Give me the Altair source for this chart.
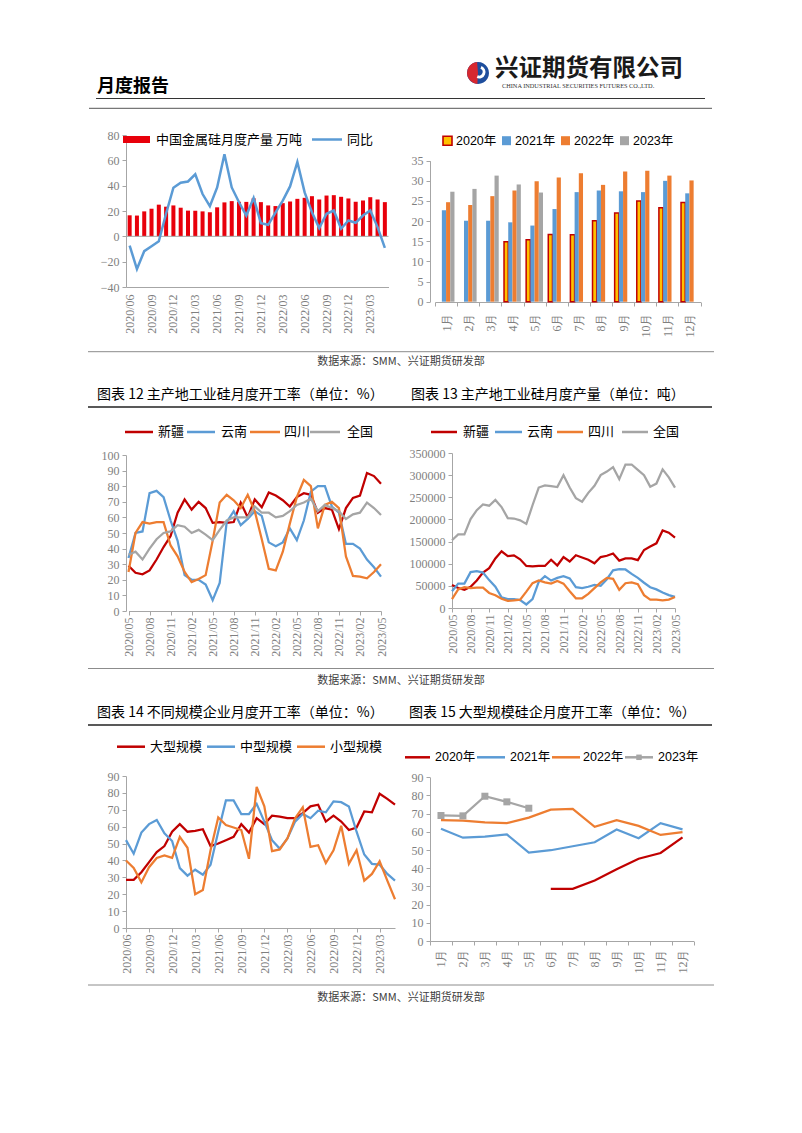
import altair as alt
import pandas as pd

# ---------------- data ----------------
months_a = ["2020/06", "2020/07", "2020/08", "2020/09", "2020/10", "2020/11", "2020/12",
            "2021/01", "2021/02", "2021/03", "2021/04", "2021/05", "2021/06", "2021/07",
            "2021/08", "2021/09", "2021/10", "2021/11", "2021/12",
            "2022/01", "2022/02", "2022/03", "2022/04", "2022/05", "2022/06", "2022/07",
            "2022/08", "2022/09", "2022/10", "2022/11", "2022/12",
            "2023/01", "2023/02", "2023/03", "2023/04", "2023/05"]
months_b = ["2020/05", "2020/06", "2020/07", "2020/08", "2020/09", "2020/10", "2020/11", "2020/12",
            "2021/01", "2021/02", "2021/03", "2021/04", "2021/05", "2021/06", "2021/07",
            "2021/08", "2021/09", "2021/10", "2021/11", "2021/12",
            "2022/01", "2022/02", "2022/03", "2022/04", "2022/05", "2022/06", "2022/07",
            "2022/08", "2022/09", "2022/10", "2022/11", "2022/12",
            "2023/01", "2023/02", "2023/03", "2023/04", "2023/05"]

# chart 1: China silicon metal monthly output (10k t) and YoY (%)
prod_wan = [16.6, 16.4, 19.7, 21.8, 25.0, 23.4, 24.4, 22.6, 20.3, 20.2, 19.7, 19.0,
            22.9, 26.8, 27.8, 27.3, 27.2, 30.0, 27.0, 24.4, 23.9, 26.2, 27.5, 29.6,
            30.4, 31.7, 29.1, 32.2, 32.5, 31.2, 29.9, 27.3, 28.3, 30.9, 29.1, 27.0]
yoy = [-7.3, -25.8, -11.7, -7.8, -3.9, 18.0, 38.4, 42.3, 43.3, 49.0, 33.4, 23.8,
       38.6, 64.8, 38.6, 26.9, 16.4, 30.3, 10.4, 9.1, 18.8, 28.2, 39.4, 58.7,
       34.7, 19.0, 6.5, 17.8, 20.4, 6.0, 12.5, 10.7, 16.4, 20.4, 7.3, -9.1]
y1_ticks = [-40, -20, 0, 20, 40, 60, 80]
zero_line = [0]

# chart 2: monthly output by year
month_cn = ["1月", "2月", "3月", "4月", "5月", "6月", "7月", "8月", "9月", "10月", "11月", "12月"]
years = ["2020年", "2021年", "2022年", "2023年"]
out_2020 = [None, None, None, 14.9, 15.4, 16.7, 16.6, 20.1, 22.0, 25.0, 23.3, 24.6]
out_2021 = [22.7, 20.1, 20.1, 19.7, 18.9, 23.0, 27.2, 27.6, 27.4, 27.2, 30.0, 26.9]
out_2022 = [24.7, 24.0, 26.2, 27.6, 29.9, 30.8, 31.9, 29.0, 32.3, 32.5, 31.3, 30.1]
out_2023 = [27.3, 28.0, 31.3, 29.1, 27.1, None, None, None, None, None, None, None]

# chart 3: operating rate by region (%)
regions = ["新疆", "云南", "四川", "全国"]
rate_xj = [29, 24.5, 23.5, 26, 33, 41, 48, 63, 71.5, 65, 70, 66, 56.5, 57, 56.5, 57, 69.5,
           60, 71.5, 66.5, 76, 74, 71, 67, 73, 75.5, 74.5, 63, 66, 65, 52.5, 66, 72.5, 74,
           88.5, 86.5, 81.5]
rate_yn = [34, 50, 51, 75.5, 77, 73, 58, 45, 23, 20, 20, 17, 7, 18, 57, 64, 55, 59, 64, 61,
           44, 41.5, 44, 53, 45.5, 58, 76.5, 80, 80, 67, 63, 43, 43, 40, 33, 28, 22]
rate_sc = [25, 50, 57, 56, 57, 57, 42, 35, 25, 18.5, 20.5, 23, 45, 69.5, 74.5, 71, 66, 74.5,
           64, 46, 27, 26, 38, 56, 73, 84, 80, 53, 68, 70, 66, 35, 22.5, 22, 21, 25, 30]
rate_qg = [36, 38, 33, 40, 46, 50, 51, 55, 54, 50, 52, 49, 45.5, 52, 58, 60, 60, 60, 67, 63,
           63, 60, 61, 64, 68, 69.5, 72, 64, 68, 66, 64, 59, 62, 63, 69.5, 66, 61.5]

# chart 4: output by region (t)
out_xj = [52000, 45000, 41000, 48000, 62000, 80000, 90000, 112000, 128000, 117000, 119000,
          110000, 95000, 94000, 95000, 95000, 109000, 96000, 115000, 105000, 119000, 114000,
          109000, 101000, 115000, 118000, 123000, 107000, 112000, 112000, 108000, 131000,
          139000, 146000, 175000, 170000, 159000]
out_yn = [38000, 55000, 55000, 81000, 83000, 80000, 63000, 48000, 24000, 20000, 20000, 18000,
          8000, 20000, 59000, 72000, 62000, 68000, 72000, 67000, 47000, 45000, 48000, 52000,
          50000, 65000, 85000, 88000, 87000, 77000, 68000, 57000, 47000, 42000, 35000, 29000,
          25000]
out_sc = [20000, 42000, 47000, 45000, 46000, 46000, 34000, 29000, 21000, 16000, 17000, 19000,
          37000, 56000, 62000, 58000, 55000, 61000, 55000, 38000, 22000, 22000, 32000, 45000,
          58000, 68000, 66000, 41000, 56000, 58000, 54000, 29000, 19000, 19000, 17000, 19000,
          25000]
out_qg = [153000, 166000, 166000, 201000, 221000, 234000, 231000, 244000, 228000, 203000,
          202000, 198000, 190000, 232000, 272000, 277000, 275000, 273000, 300000, 272000,
          248000, 240000, 260000, 276000, 300000, 308000, 318000, 291000, 324000, 324000,
          312000, 300000, 274000, 281000, 313000, 295000, 272000]

# chart 5: operating rate by enterprise size (%)
sizes = ["大型规模", "中型规模", "小型规模"]
rate_large = [28.5, 28.5, 33, 39, 45, 48.5, 57, 61.5, 57, 57.5, 58.5, 48.5, 50, 52, 54, 61.5,
              56.5, 65, 61.5, 66.5, 66, 65, 65, 68, 72, 73, 63, 66.5, 63, 58, 59.5, 69, 68.5,
              79.5, 76.5, 73]
rate_mid = [52, 44, 56.5, 61.5, 64, 56, 51.5, 35.5, 31, 34.5, 31.5, 37.5, 57, 75.5, 75.5,
            67.5, 67.5, 73.5, 63, 52, 47, 53, 63, 67.5, 65, 69.5, 68.5, 75, 74.5, 72, 57, 43.5,
            38, 37.5, 32, 28]
rate_small = [40, 35.5, 27, 36, 41.5, 43, 41.5, 54, 47.5, 20, 22.5, 46, 65.5, 61, 59.5, 58, 41,
              83.5, 72, 45.5, 46.5, 53, 65, 71.5, 48, 49, 38.5, 46, 60.5, 38, 46, 28, 32, 39.5,
              28, 17]

# chart 6: large enterprises operating rate by year (%)
big_2020 = [None, None, None, None, None, 28.7, 28.7, 33.3, 39.5, 45.2, 48.4, 57.0]
big_2021 = [61.7, 56.8, 57.4, 58.6, 48.6, 49.9, 52.1, 54.3, 61.3, 56.5, 64.8, 61.4]
big_2022 = [66.4, 66.2, 65.2, 64.8, 67.8, 72.2, 72.7, 62.8, 66.4, 63.3, 58.3, 59.9]
big_2023 = [69.0, 68.8, 79.6, 76.5, 73.0, None, None, None, None, None, None, None]

# ---------------- styles ----------------
RED = "#C00000"
BAR_RED = "#E8000B"
BLUE = "#5B9BD5"
ORANGE = "#ED7D31"
GRAY = "#A5A5A5"
YELLOW = "#FFC000"
LOGO_RED = "#D7282F"
LOGO_BLUE = "#1E4E9D"
CJK = "Noto Sans CJK SC"
SERIF = "Liberation Serif"
SANS = "Liberation Sans, Noto Sans CJK SC"
TICK = "#7F7F7F"
AXC = "#A6A6A6"

DUMMY = pd.DataFrame({"d": [0]})


def text_mark(x, y, s, size=13, color="#000000", font=CJK, align="left", weight="normal"):
    return alt.Chart(DUMMY).mark_text(
        text=s, align=align, baseline="middle", font=font, fontSize=size,
        color=color, fontWeight=weight
    ).encode(x=alt.value(x), y=alt.value(y))


def hline(x0, x1, y, color, width):
    return alt.Chart(DUMMY).mark_rule(color=color, strokeWidth=width).encode(
        x=alt.value(x0), x2=alt.value(x1), y=alt.value(y))


def box(x0, x1, y0, y1, fill, stroke=None, sw=1.5):
    kw = dict(color=fill)
    if stroke is not None:
        kw = dict(fill=fill, stroke=stroke, strokeWidth=sw)
    return alt.Chart(DUMMY).mark_rect(**kw).encode(
        x=alt.value(x0), x2=alt.value(x1), y=alt.value(y0), y2=alt.value(y1))


def line_key(x0, x1, y, color, label, lx, font=CJK, size=13):
    return [hline(x0, x1, y, color, 2.5), text_mark(lx, y, label, size=size, font=font)]


def empty_cell():
    return alt.Chart(DUMMY).mark_point(opacity=0, size=1).encode(
        x=alt.value(1), y=alt.value(1)).properties(width=1, height=1)


def long_frame(cats, names, series, cat_col="month", name_col="series"):
    rows = []
    for name, vals in zip(names, series):
        for c, v in zip(cats, vals):
            if v is not None:
                rows.append({cat_col: c, name_col: name, "value": v})
    return pd.DataFrame(rows)


def date_axis(vals, pad=3, ticks=True):
    return alt.Axis(values=vals, labelAngle=-90, labelAlign="right", labelBaseline="middle",
                    ticks=ticks, tickSize=4, labelPadding=pad, title=None)


def y_axis(vals, fmt=None, offset=None):
    kw = dict(values=vals, tickSize=4, labelPadding=3, title=None, labelOverlap=False)
    if fmt:
        kw["format"] = fmt
    if offset is not None:
        kw["offset"] = offset
    return alt.Axis(**kw)


# ---------------- header ----------------
header = alt.layer(
    text_mark(-29, 79, "月度报告", size=18, weight="bold"),
    hline(-30, 579, 90.5, "#333333", 1.2),
    hline(-37, 586, 100.3, "#555555", 1.0),
    alt.Chart(DUMMY).mark_arc(color=LOGO_BLUE, radius=11, theta=0, theta2=6.283).encode(
        x=alt.value(352), y=alt.value(65)),
    alt.Chart(DUMMY).mark_arc(color=LOGO_RED, radius=11, theta=3.2, theta2=6.2).encode(
        x=alt.value(352), y=alt.value(65)),
    alt.Chart(DUMMY).mark_arc(color="#FFFFFF", radius=6.5, radius2=3.6, theta=0.4, theta2=3.5).encode(
        x=alt.value(353), y=alt.value(64)),
    text_mark(369, 60.5, "兴证期货有限公司", size=23.5, weight="bold", color="#1A1A1A"),
    text_mark(376, 78, "CHINA INDUSTRIAL SECURITIES FUTURES CO.,LTD.", size=6.3, font=SERIF,
              color="#333333"),
).properties(width=304, height=127)

# ---------------- chart 1 ----------------
df1 = pd.DataFrame({"month": months_a, "prod": prod_wan, "yoy": yoy})
df1_zero = pd.DataFrame({"zero": zero_line})
x1 = alt.X("month:N", sort=months_a, title=None,
           scale=alt.Scale(paddingInner=0.45, paddingOuter=0.225),
           axis=date_axis(months_a[::3], pad=7, ticks=False))
y1_scale = alt.Scale(domain=[-40, 80], nice=False, zero=False)
y1_axis = y_axis(y1_ticks)
bars1 = alt.Chart(df1).mark_bar(color=BAR_RED).encode(
    x=x1, y=alt.Y("prod:Q", title=None, scale=y1_scale, axis=y1_axis))
zero1 = alt.Chart(df1_zero).mark_rule(color=AXC, strokeWidth=1).encode(
    y=alt.Y("zero:Q", title=None, scale=y1_scale, axis=y1_axis))
line1 = alt.Chart(df1).mark_line(color=BLUE, strokeWidth=2.5).encode(
    x=x1, y=alt.Y("yoy:Q", title=None, scale=y1_scale, axis=y1_axis))
ch1 = alt.layer(
    bars1, zero1, line1,
    box(-3, 24, 1, 8, BAR_RED),
    text_mark(30, 4.5, "中国金属硅月度产量 万吨"),
    *line_key(186, 216, 4.5, BLUE, "同比", 221),
).properties(width=262.5, height=152)

# ---------------- chart 2 ----------------
df2 = long_frame(month_cn, years, [out_2020, out_2021, out_2022, out_2023],
                 cat_col="month", name_col="year")
bars2 = alt.Chart(df2).mark_bar(strokeWidth=1.5).encode(
    x=alt.X("month:N", sort=month_cn, title=None,
            scale=alt.Scale(range=[5, 270.5], paddingInner=0, paddingOuter=0),
            axis=alt.Axis(labelAngle=-90, labelAlign="right", labelBaseline="middle",
                          tickBand="extent", tickSize=4, labelPadding=7, title=None)),
    xOffset=alt.XOffset("year:N", sort=years,
                        scale=alt.Scale(domain=years, paddingInner=0, paddingOuter=0.63)),
    y=alt.Y("value:Q", title=None,
            scale=alt.Scale(domain=[0, 35], nice=False, range=[166.7, 25.7]),
            axis=y_axis(list(range(0, 36, 5)))),
    fill=alt.Fill("year:N", scale=alt.Scale(domain=years, range=[YELLOW, BLUE, ORANGE, GRAY]),
                  legend=None),
    stroke=alt.condition(alt.datum.year == "2020年", alt.value(RED), alt.value("transparent")),
)
leg2 = []
leg_cols2 = [YELLOW, BLUE, ORANGE, GRAY]
for i, (yr, col) in enumerate(zip(years, leg_cols2)):
    sx = 13 + 59 * i
    if i == 0:
        leg2.append(box(sx, sx + 9, 1.2, 10.2, col, stroke=RED, sw=1.6))
    else:
        leg2.append(box(sx, sx + 9, 1.2, 10.2, col))
    leg2.append(text_mark(sx + 13, 5.7, yr, size=12.5, font=SANS))
ch2 = alt.layer(bars2, *leg2).properties(width=272, height=167)

# ---------------- chart 3 ----------------
df3 = long_frame(months_b, regions, [rate_xj, rate_yn, rate_sc, rate_qg])
lines3 = alt.Chart(df3).mark_line(strokeWidth=2.25).encode(
    x=alt.X("month:N", sort=months_b, title=None,
            scale=alt.Scale(type="point", padding=0, range=[2.5, 255]),
            axis=date_axis(months_b[::3], pad=2)),
    y=alt.Y("value:Q", title=None, scale=alt.Scale(domain=[0, 100], nice=False, range=[158, 2]),
            axis=y_axis(list(range(0, 101, 10)))),
    color=alt.Color("series:N", scale=alt.Scale(domain=regions, range=[RED, BLUE, ORANGE, GRAY]),
                    legend=None),
)
ch3 = alt.layer(
    lines3,
    *line_key(-1, 27, -21, RED, "新疆", 32),
    *line_key(61, 89, -21, BLUE, "云南", 95),
    *line_key(124, 154, -21, ORANGE, "四川", 158),
    *line_key(184, 214, -21, GRAY, "全国", 221),
).properties(width=256, height=158)

# ---------------- chart 4 ----------------
df4 = long_frame(months_b, regions, [out_xj, out_yn, out_sc, out_qg])
lines4 = alt.Chart(df4).mark_line(strokeWidth=2.25).encode(
    x=alt.X("month:N", sort=months_b, title=None,
            scale=alt.Scale(type="point", padding=0, range=[22, 245]),
            axis=date_axis(months_b[::3], pad=2)),
    y=alt.Y("value:Q", title=None,
            scale=alt.Scale(domain=[0, 350000], nice=False, range=[155, 0]),
            axis=y_axis(list(range(0, 350001, 50000)), fmt="d", offset=-22)),
    color=alt.Color("series:N", scale=alt.Scale(domain=regions, range=[RED, BLUE, ORANGE, GRAY]),
                    legend=None),
)
ch4 = alt.layer(
    lines4,
    *line_key(1, 27, -21, RED, "新疆", 33),
    *line_key(65, 92, -21, BLUE, "云南", 97),
    *line_key(127, 153, -21, ORANGE, "四川", 158),
    *line_key(192, 218, -21, GRAY, "全国", 223),
).properties(width=245, height=155)

# ---------------- chart 5 ----------------
df5 = long_frame(months_a, sizes, [rate_large, rate_mid, rate_small])
lines5 = alt.Chart(df5).mark_line(strokeWidth=2.25).encode(
    x=alt.X("month:N", sort=months_a, title=None,
            scale=alt.Scale(type="point", padding=0, range=[0, 269]),
            axis=date_axis(months_a[::3], pad=2)),
    y=alt.Y("value:Q", title=None, scale=alt.Scale(domain=[0, 90], nice=False, range=[152, 0]),
            axis=y_axis(list(range(0, 91, 10)))),
    color=alt.Color("series:N", scale=alt.Scale(domain=sizes, range=[RED, BLUE, ORANGE]),
                    legend=None),
)
ch5 = alt.layer(
    lines5,
    *line_key(-9, 19, -29.3, RED, "大型规模", 24),
    *line_key(81, 109, -29.3, BLUE, "中型规模", 114),
    *line_key(171, 199, -29.3, ORANGE, "小型规模", 204),
).properties(width=269, height=152)

# ---------------- chart 6 ----------------
df6 = long_frame(month_cn, years, [big_2020, big_2021, big_2022, big_2023])
x6 = alt.X("month:N", sort=month_cn, title=None, bandPosition=0.5,
           scale=alt.Scale(type="band", paddingInner=0, paddingOuter=0, range=[0, 263.5]),
           axis=alt.Axis(labelAngle=-90, labelAlign="right", labelBaseline="middle",
                         tickBand="extent", tickSize=4, labelPadding=4, title=None))
y6 = alt.Y("value:Q", title=None, scale=alt.Scale(domain=[0, 90], nice=False, range=[165, 1.3]),
           axis=y_axis(list(range(0, 91, 10))))
lines6 = alt.Chart(df6).mark_line(strokeWidth=2.25).encode(
    x=x6, y=y6,
    color=alt.Color("series:N", scale=alt.Scale(domain=years, range=[RED, BLUE, ORANGE, GRAY]),
                    legend=None),
)
pts6 = alt.Chart(df6[df6["series"] == "2023年"]).mark_point(
    shape="square", filled=True, size=49, color=GRAY, opacity=1).encode(x=x6, y=y6)
ch6 = alt.layer(
    lines6, pts6,
    *line_key(-25, 0, -18.7, RED, "2020年", 5, font=SANS, size=12.5),
    *line_key(47, 75, -18.7, BLUE, "2021年", 80, font=SANS, size=12.5),
    *line_key(122, 150, -18.7, ORANGE, "2022年", 153, font=SANS, size=12.5),
    *line_key(195, 223, -18.7, GRAY, "2023年", 228, font=SANS, size=12.5),
    alt.Chart(DUMMY).mark_point(shape="square", filled=True, size=30, color=GRAY, opacity=1).encode(
        x=alt.value(209), y=alt.value(-18.7)),
).properties(width=263.5, height=165)

# ---------------- text bands ----------------
SRC = "数据来源：SMM、兴证期货研发部"
band1 = alt.layer(
    hline(-38, 588, 49.7, "#8C8C8C", 1.0),
    text_mark(275, 60, SRC, size=11, color="#404040", align="center"),
    text_mark(-29, 93, "图表 12 主产地工业硅月度开工率（单位：%）", size=14),
    text_mark(285, 93, "图表 13 主产地工业硅月度产量（单位：吨）", size=14),
    hline(-38, 586, 105, "#222222", 1.5),
).properties(width=304, height=151)

band2 = alt.layer(
    hline(-38, 588, 57.5, "#8C8C8C", 1.0),
    text_mark(275, 69.5, SRC, size=11, color="#404040", align="center"),
    text_mark(-29, 102, "图表 14 不同规模企业月度开工率（单位：%）", size=14),
    text_mark(283, 102, "图表 15 大型规模硅企月度开工率（单位：%）", size=14),
    hline(-38, 586, 114, "#222222", 1.5),
).properties(width=304, height=165)

band3 = alt.layer(
    hline(-38, 588, 44, "#8C8C8C", 1.0),
    text_mark(275, 57, SRC, size=11, color="#404040", align="center"),
).properties(width=304, height=70)

cells = [header, empty_cell(),
         ch1, ch2,
         band1, empty_cell(),
         ch3, ch4,
         band2, empty_cell(),
         ch5, ch6,
         band3, empty_cell()]

chart = alt.concat(*cells, columns=2, spacing=0, bounds="flush", align="each").properties(
    padding={"left": 79, "top": 0, "right": 8, "bottom": 8}
).resolve_scale(
    color="independent", fill="independent"
).configure_view(strokeWidth=0).configure_axis(
    labelFont=SERIF, labelFontSize=12, labelColor=TICK, domainColor=AXC, tickColor=AXC,
    grid=False, domainWidth=1, tickWidth=1, labelOverlap=False
)

chart.save("out.html", embed_options={"renderer": "svg", "actions": False})
